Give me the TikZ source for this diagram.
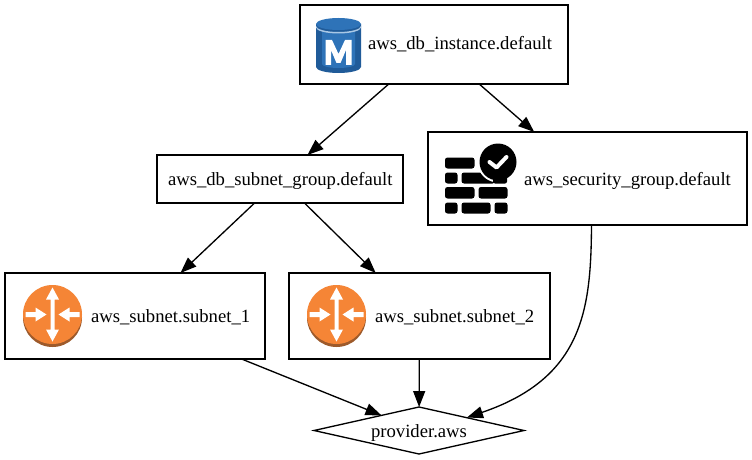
\documentclass[tikz,border=0pt]{standalone}
\usepackage{fontspec}
\setmainfont{Liberation Serif}
\usetikzlibrary{arrows.meta,shapes.geometric}
\definecolor{dbblue}{HTML}{2E73B8}
\definecolor{dbdark}{HTML}{205B99}
\definecolor{dblight}{HTML}{A9C8E6}
\definecolor{rorange}{HTML}{F58536}
\definecolor{rdark}{HTML}{9D5A2B}
\tikzset{
  box/.style={draw=black,line width=1.33pt,fill=white,inner sep=0pt,outer sep=0pt},
  lbl/.style={anchor=base west,inner sep=0pt,outer sep=0pt,font=\fontsize{18.67pt}{22pt}\selectfont},
  conn/.style={draw=black,line width=1.33pt,-{Triangle[length=16pt,width=12pt]}},
  brick/.style={fill=black,rounded corners=2.5pt,draw=none},
}
\newcommand{\routericon}[2]{%
  \begin{scope}[shift={(#1,#2)}]
    \fill[rdark] (0,3) circle (29.5pt);
    \fill[rorange] (0,0) circle (29.5pt);
    \fill[white] (-2,-15) -- (-2,15) -- (-6.5,15) -- (0,27) -- (6.5,15) -- (2,15) -- (2,-15) -- (6.5,-15) -- (0,-27) -- (-6.5,-15) -- cycle;
    \fill[white] (-27,-2.5) -- (-17,-2.5) -- (-17,-7) -- (-6,0) -- (-17,7) -- (-17,2.5) -- (-27,2.5) -- cycle;
    \fill[white] (27,-2.5) -- (17,-2.5) -- (17,-7) -- (6,0) -- (17,7) -- (17,2.5) -- (27,2.5) -- cycle;
  \end{scope}}
\begin{document}
\begin{tikzpicture}[x=1pt,y=-1pt]
\useasboundingbox (0,0) rectangle (752,460);
\fill[white] (0,0) rectangle (752,460);
\node[box,minimum width=268pt,minimum height=79pt] (db) at (434,44.5) {};
\node[box,minimum width=246pt,minimum height=48pt] (group) at (280,179) {};
\node[box,minimum width=319pt,minimum height=93pt] (sg) at (587.5,178.5) {};
\node[box,minimum width=260pt,minimum height=86pt] (s1) at (135,316) {};
\node[box,minimum width=261pt,minimum height=86pt] (s2) at (419.5,316) {};
\node[draw=black,line width=1.33pt,fill=white,shape=diamond,aspect=4.47,inner sep=0pt,outer sep=0pt,minimum width=210pt,minimum height=47pt] (provider) at (419,430.5) {};
\draw[conn] (db) -- (group);
\draw[conn] (db) -- (sg);
\draw[conn] (group) -- (s1);
\draw[conn] (group) -- (s2);
\draw[conn] (s1) -- (provider);
\draw[conn] (s2) -- (provider);
\draw[conn] ([xshift=4pt]sg.south) .. controls (591,310) and (583,378) .. ([shift={(48,-13)}]provider.center);
\node[lbl] (tdb) at (368,50) {aws\_db\_instance.default};
\node[lbl] (tgroup) at (168,185) {aws\_db\_subnet\_group.default};
\node[lbl] (tsg) at (524,185) {aws\_security\_group.default};
\node[lbl] (ts1) at (91,322) {aws\_subnet.subnet\_1};
\node[lbl] (ts2) at (375,322) {aws\_subnet.subnet\_2};
\node[lbl,anchor=base] (tprov) at (419,437) {provider.aws};
% database icon
\fill[dbdark] (316,24) -- (316,67) arc[start angle=180,end angle=360,x radius=22.5pt,y radius=6pt] -- (361,24) -- cycle;
\fill[dbblue] (322,32) -- (322,64) arc[start angle=180,end angle=360,x radius=16.5pt,y radius=4pt] -- (355,32) -- cycle;
\fill[dblight] (316,26) arc[start angle=180,end angle=360,x radius=22.5pt,y radius=6pt] -- (361,27.5) arc[start angle=360,end angle=180,x radius=22.5pt,y radius=6pt] -- cycle;
\fill[dbblue] (338.5,24) ellipse[x radius=22.5pt,y radius=6pt];
\fill[white] (325.5,65) -- (325.5,40) -- (332,40) -- (338.5,54) -- (345,40) -- (351.5,40) -- (351.5,65) -- (346,65) -- (346,50) -- (340.5,63) -- (336.5,63) -- (331,50) -- (331,65) -- cycle;
% firewall icon
\fill[brick] (445,157.5) rectangle (474.5,168.5);
\fill[brick] (478.5,157.5) rectangle (495,168.5);
\fill[brick] (445,172.5) rectangle (457.5,183.5);
\fill[brick] (461.5,172.5) rectangle (495,183.5);
\fill[brick] (445,187) rectangle (474.5,198.5);
\fill[brick] (478.5,187) rectangle (507.5,198.5);
\fill[brick] (445,202.5) rectangle (457.5,213.5);
\fill[brick] (461.5,202.5) rectangle (490.5,213.5);
\fill[brick] (494.5,202.5) rectangle (507.5,213.5);
\fill[white] (498,162) circle (20.5pt);
\fill[black] (498,162) circle (18.5pt);
\fill[black,rounded corners=2pt] (493,176) rectangle (507,183.5);
\draw[white,line width=4pt,line cap=round,line join=round] (489.5,162) -- (496.5,167.5) -- (506.5,157);
% router icons
\routericon{52.5}{314.5}
\routericon{336.5}{314.5}
\end{tikzpicture}
\end{document}
